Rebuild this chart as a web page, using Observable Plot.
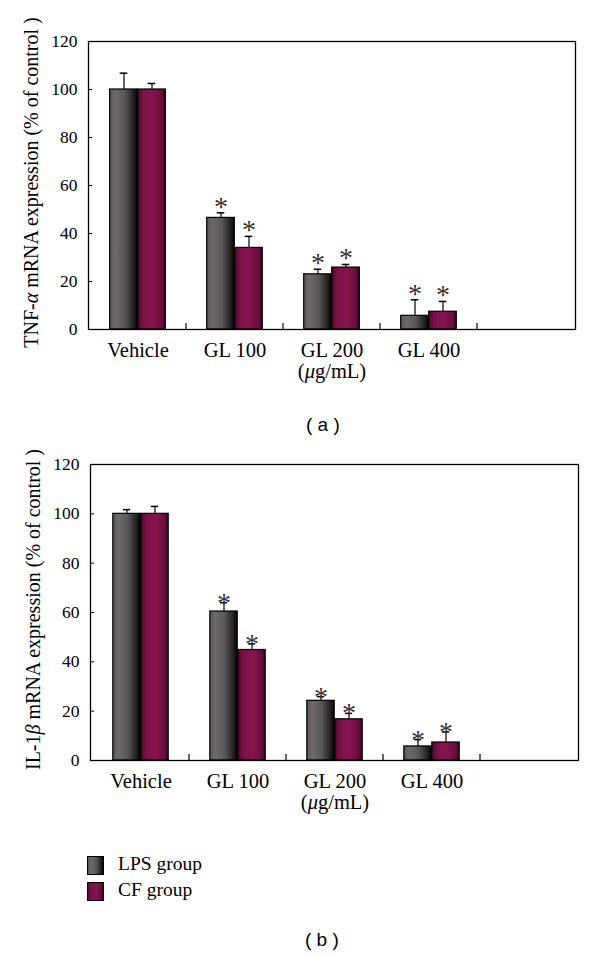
<!DOCTYPE html>
<html><head><meta charset="utf-8">
<script src="https://cdn.jsdelivr.net/npm/d3@7"></script>
<script src="https://cdn.jsdelivr.net/npm/@observablehq/plot@0.6"></script>
<style>
body{margin:0;background:#fff;}
#page{position:relative;width:600px;height:955px;font-family:"Liberation Serif",serif;color:#000;}
#pa{position:absolute;left:0;top:0}
#pb{position:absolute;left:0;top:440px}
.cap{position:absolute;font-family:"Liberation Sans",Arial,sans-serif;font-size:19px;line-height:20px;white-space:pre;}
.leg{position:absolute;left:87px;width:140px;height:20px;}
.sw{position:absolute;left:0;top:0;width:15px;height:17px;border:1px solid #000;}
.lt{position:absolute;left:31px;top:-2px;font-size:19.5px;line-height:20px;white-space:nowrap;}
</style></head>
<body><div id="page">
<div id="pa"></div>
<div class="cap" style="left:306px;top:415px">( a )</div>
<div id="pb"></div>
<div class="leg" style="top:856px"><div class="sw" style="background:linear-gradient(to right,#5a5557,#6e696b 20%,#5a5557 55%,#262324 85%,#050505)"></div><div class="lt">LPS group</div></div>
<div class="leg" style="top:882px"><div class="sw" style="background:linear-gradient(to right,#4a0a28,#7a1248 20%,#86134e 55%,#6a0f3c 85%,#3a0820)"></div><div class="lt">CF group</div></div>
<div class="cap" style="left:305px;top:930px">( b )</div>
</div>
<script>
// ---- data ----
const categories = ["Vehicle", "GL 100", "GL 200", "GL 400"];
const BLANK = "(blank)";
const groups = ["LPS group", "CF group"];
const yTicks = [0, 20, 40, 60, 80, 100, 120];
const unitLabel = "(μg/mL)";

const tnfLabel = "TNF-α mRNA expression (% of control )";
const tnfLPS = [100, 46.5, 23, 5.7];
const tnfLPSErr = [6.8, 2.1, 2.1, 6.7];
const tnfLPSSig = [false, true, true, true];
const tnfCF = [100, 34, 25.8, 7.4];
const tnfCFErr = [2.5, 4.8, 1.3, 4.3];
const tnfCFSig = [false, true, true, true];

const il1Label = "IL-1β mRNA expression (% of control )";
const il1LPS = [100, 60.4, 24.2, 5.7];
const il1LPSErr = [1.7, 3.6, 1.7, 2.8];
const il1LPSSig = [false, true, true, true];
const il1CF = [100, 44.8, 16.7, 7.3];
const il1CFErr = [3, 2.5, 2.4, 4.3];
const il1CFSig = [false, true, true, true];

// ---- drawing ----
const W = 600;
const domain = [...categories, BLANK];
const svgNS = "http://www.w3.org/2000/svg";

function defsMark(id) {
  return () => {
    const defs = d3.create("svg:defs");
    const mk = (gid, stops) => {
      const g = defs.append("linearGradient").attr("id", gid).attr("x1", "0").attr("x2", "1").attr("y1", "0").attr("y2", "0");
      stops.forEach(([o, c]) => g.append("stop").attr("offset", o).attr("stop-color", c));
    };
    mk(id + "-lps", [[0, "#5a5557"], [0.2, "#6e696b"], [0.55, "#5a5557"], [0.85, "#262324"], [1, "#050505"]]);
    mk(id + "-cf", [[0, "#4a0a28"], [0.2, "#7a1248"], [0.55, "#86134e"], [0.85, "#6a0f3c"], [1, "#3a0820"]]);
    return defs.node();
  };
}

function makePanel(p) {
  const bw = (W - p.ml - p.mr) / domain.length;
  const series = [
    {key: "lps", v: p.lps, e: p.lpsErr, s: p.lpsSig, dx: -14, il: bw / 2 - 28, ir: bw / 2},
    {key: "cf", v: p.cf, e: p.cfErr, s: p.cfSig, dx: 14, il: bw / 2, ir: bw / 2 - 28}
  ];
  const marks = [defsMark(p.id)];
  for (const s of series) {
    const rows = categories.map((c, i) => ({cat: c, v: s.v[i], e: s.e[i], sig: s.s[i]}));
    marks.push(
      Plot.ruleX(rows, {x: "cat", y1: "v", y2: d => d.v + d.e, dx: s.dx, stroke: "#000", strokeWidth: 1.2}),
      Plot.tickY(rows, {x: "cat", y: d => d.v + d.e, dx: s.dx, insetLeft: bw / 2 - 4, insetRight: bw / 2 - 4, stroke: "#000", strokeWidth: 1.5}),
      Plot.barY(rows, {x: "cat", y: "v", fill: `url(#${p.id}-${s.key})`, stroke: "#000", strokeWidth: 1.2, insetLeft: s.il, insetRight: s.ir}),
      Plot.text(rows.filter(d => d.sig), {x: "cat", y: d => d.v + d.e, text: () => "*", dx: s.dx, dy: p.starDy, lineAnchor: "bottom", fontSize: 28, fill: "#333"})
    );
  }
  marks.push(
    Plot.frame({stroke: "#000", strokeWidth: 1.3}),
    Plot.axisY({ticks: yTicks, tickSize: -4, tickPadding: 15, fontSize: 17.5, label: null}),
    Plot.axisX({tickSize: 0, tickPadding: 13, fontSize: 20.5, label: null, tickFormat: d => d === BLANK ? "" : d}),
    Plot.text([p.label], {frameAnchor: "left", rotate: -90, textAnchor: "middle", lineAnchor: "middle", dx: -57, dy: -3, fontSize: 20}),
    Plot.text([unitLabel], {x: () => categories[2], frameAnchor: "bottom", lineAnchor: "bottom", dy: 48, fontSize: 20.5})
  );
  const plot = Plot.plot({
    width: W, height: p.height,
    marginLeft: p.ml, marginRight: p.mr, marginTop: p.mt, marginBottom: p.mb,
    style: {fontFamily: "Liberation Serif, serif", color: "#000", background: "transparent"},
    x: {domain, padding: 0, axis: null},
    y: {domain: [0, 120], axis: null},
    marks
  });
  // separator ticks between category slots, via the library's scales
  const sx = plot.scale("x"), sy = plot.scale("y");
  const yb = sy.apply(0);
  const svg = d3.select(plot);
  for (let i = 1; i < domain.length; i++) {
    const xv = sx.apply(domain[i]);
    svg.append("line").attr("x1", xv).attr("x2", xv).attr("y1", yb).attr("y2", yb - 6).attr("stroke", "#000").attr("stroke-width", 1.2);
  }
  // italic Greek letters
  svg.selectAll("text").each(function () {
    const t = this.textContent;
    if (/[αβμ]/.test(t) && this.children.length === 0) {
      this.textContent = "";
      t.split(/([αβμ])/).forEach(part => {
        if (!part) return;
        const ts = document.createElementNS(svgNS, "tspan");
        ts.textContent = part;
        if (/[αβμ]/.test(part)) ts.setAttribute("font-style", "italic");
        this.appendChild(ts);
      });
    }
  });
  return plot;
}

document.getElementById("pa").appendChild(makePanel({
  id: "ga", label: tnfLabel, lps: tnfLPS, lpsErr: tnfLPSErr, lpsSig: tnfLPSSig, cf: tnfCF, cfErr: tnfCFErr, cfSig: tnfCFSig,
  ml: 88, mr: 25, mt: 41, mb: 66, height: 395, starDy: 3
}));
document.getElementById("pb").appendChild(makePanel({
  id: "gb", label: il1Label, lps: il1LPS, lpsErr: il1LPSErr, lpsSig: il1LPSSig, cf: il1CF, cfErr: il1CFErr, cfSig: il1CFSig,
  ml: 90, mr: 22, mt: 24, mb: 65, height: 385, starDy: 9
}));
</script>
</body></html>
